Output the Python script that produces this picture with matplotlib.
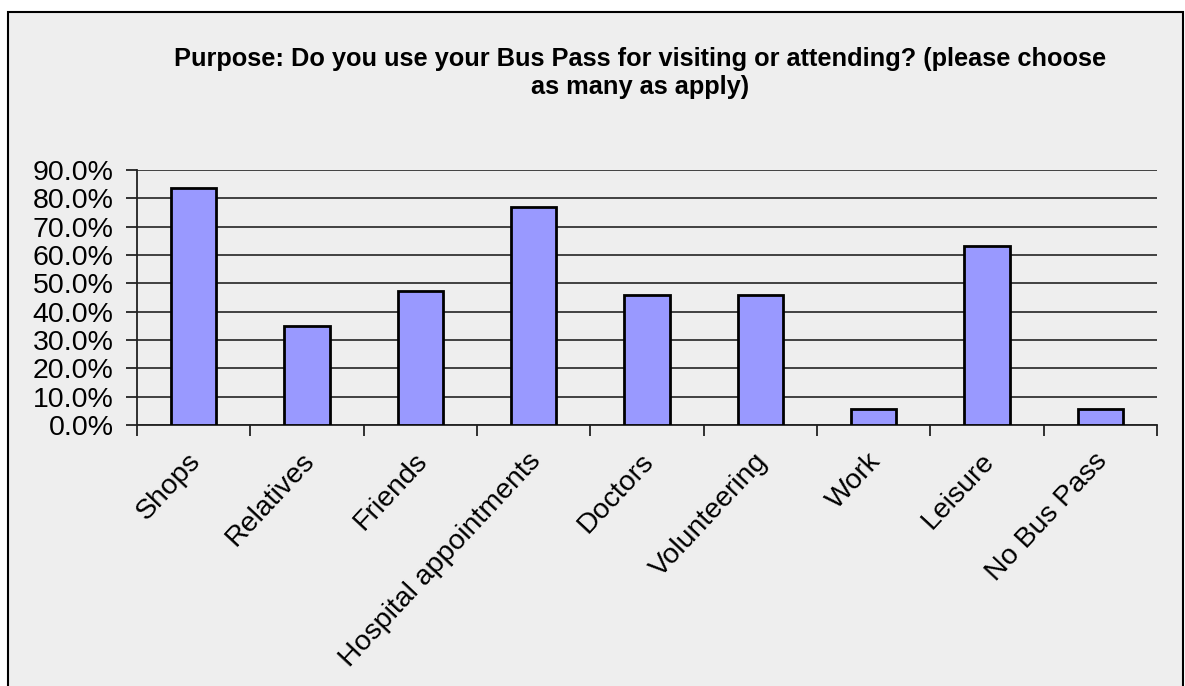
"""Bus pass purpose survey - bar chart."""
import matplotlib
matplotlib.use("Agg")
import matplotlib.pyplot as plt
from matplotlib.patches import Rectangle
from matplotlib.ticker import FixedLocator, PercentFormatter

categories = ["Shops", "Relatives", "Friends", "Hospital appointments", "Doctors",
              "Volunteering", "Work", "Leisure", "No Bus Pass"]
share_pct = [83.7, 35.1, 47.4, 76.9, 46.0, 46.0, 5.5, 63.2, 5.5]
y_ticks = [0, 10, 20, 30, 40, 50, 60, 70, 80, 90]

title = ("Purpose: Do you use your Bus Pass for visiting or attending? (please choose\n"
         "as many as apply)")

plt.rcParams['font.family'] = ['Liberation Sans', 'DejaVu Sans']

bg = '#eeeeee'
fig = plt.figure(figsize=(11.85, 6.86), dpi=100, facecolor='white')

# chart area frame (bottom edge runs off the picture)
fig.patches.append(Rectangle((8 / 1185, -0.05), 1175 / 1185, 1.05 - 12 / 686,
                             transform=fig.transFigure, facecolor=bg,
                             edgecolor='black', linewidth=1.5, zorder=-5))

ax = fig.add_axes([137 / 1185, 1 - 425 / 686, (1157 - 137) / 1185, (425 - 170) / 686])
ax.set_facecolor(bg)

x = list(range(len(categories)))
ax.bar(x, share_pct, width=0.4, color='#9999ff', edgecolor='black', linewidth=2, zorder=3)

ax.set_xlim(-0.5, len(categories) - 0.5)
ax.set_ylim(0, 90)
ax.yaxis.set_major_locator(FixedLocator(y_ticks))
ax.yaxis.set_major_formatter(PercentFormatter(decimals=1))
ax.grid(True, axis='y', color='#333333', linewidth=1.3, zorder=1)

for side in ('top', 'right'):
    ax.spines[side].set_visible(False)
for side in ('left', 'bottom'):
    ax.spines[side].set_color('#222222')
    ax.spines[side].set_linewidth(1.3)

ax.set_xticks(x)
ax.set_xticklabels(categories, rotation=47, ha='right', va='center',
                   rotation_mode='anchor', fontsize=20.5, color='black')
ax.set_xticks([i - 0.5 for i in range(len(categories) + 1)], minor=True)
ax.tick_params(axis='x', which='major', length=0, pad=23)
ax.tick_params(axis='x', which='minor', length=8, width=1.3, color='#222222')
ax.tick_params(axis='y', length=8, width=1.3, color='#222222', pad=9,
               labelsize=20.5, labelcolor='black')

# nudge category labels slightly right, as in the original
import matplotlib.transforms as mtransforms
shift = mtransforms.ScaledTranslation(3 / 100, 0, fig.dpi_scale_trans)
for lbl in ax.get_xticklabels():
    lbl.set_transform(lbl.get_transform() + shift)

fig.text(640 / 1185, 1 - 73 / 686, title, ha='center', va='center', fontsize=18.3,
         fontweight='bold', color='black', linespacing=1.25)

fig.savefig('out.png', dpi=100, facecolor='white')
